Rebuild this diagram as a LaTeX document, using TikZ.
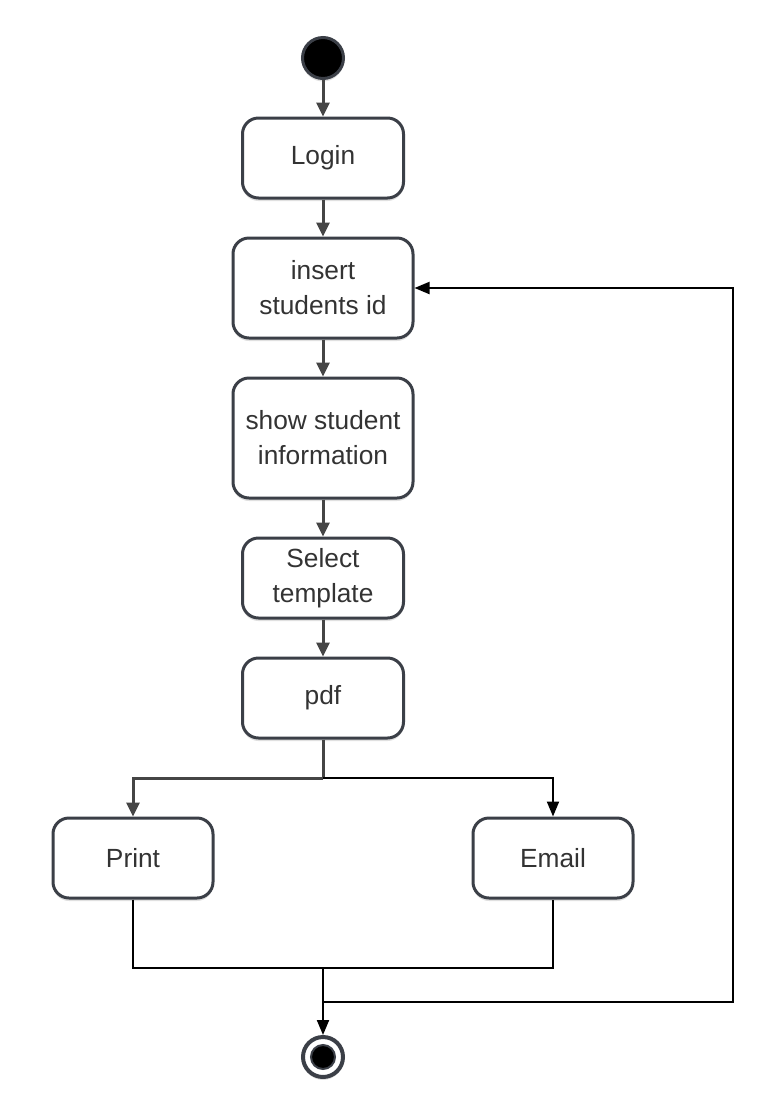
\documentclass[tikz,border=0pt]{standalone}
\usepackage{fontspec}
\setmainfont{Liberation Sans}
\usetikzlibrary{arrows.meta,shadows}
\definecolor{boxline}{HTML}{3B3F47}
\definecolor{arrgray}{HTML}{454545}
\definecolor{txt}{HTML}{333333}
\tikzset{
  act/.style={draw=boxline, line width=3pt, rounded corners=16pt, fill=white,
    inner sep=0pt, text=txt, align=center,
    font=\fontsize{26.3}{35}\selectfont,
    drop shadow={shadow xshift=0pt, shadow yshift=-3pt, opacity=0.12, fill=black}},
  garrow/.style={draw=arrgray, line width=3pt, -{Triangle[length=14pt,width=13pt]}},
  gline/.style={draw=arrgray, line width=3pt},
  barrow/.style={draw=black, line width=2pt, -{Triangle[length=15pt,width=12pt]}},
  bline/.style={draw=black, line width=2pt},
}
\begin{document}
\begin{tikzpicture}[x=1pt,y=-1pt]
\useasboundingbox[fill=white] (0,0) rectangle (764,1104);
% nodes
\node[circle, draw=boxline, line width=3pt, fill=black, minimum size=41pt, inner sep=0pt,
  drop shadow={shadow xshift=0pt, shadow yshift=-3pt, opacity=0.12, fill=black}] (start) at (323,58) {};
\node[act, minimum width=161pt, minimum height=80pt] (login) at (323,158) {Login};
\node[act, minimum width=180pt, minimum height=100pt] (insert) at (323,288) {insert\\students id};
\node[act, minimum width=180pt, minimum height=120pt] (show) at (323,438) {show student\\information};
\node[act, minimum width=161pt, minimum height=80pt] (select) at (323,578) {Select\\template};
\node[act, minimum width=161pt, minimum height=80pt] (pdf) at (323,698) {pdf};
\node[act, minimum width=160pt, minimum height=80pt] (print) at (133,858) {Print};
\node[act, minimum width=160pt, minimum height=80pt] (email) at (553,858) {Email};
\node[circle, draw=boxline, line width=4pt, fill=white, minimum size=40pt, inner sep=0pt,
  drop shadow={shadow xshift=0pt, shadow yshift=-3pt, opacity=0.12, fill=black}] (end) at (323,1057) {};
\node[circle, draw=boxline, line width=2pt, fill=black, minimum size=24pt, inner sep=0pt] (endin) at (end.center) {};
% coordinates
\coordinate (split) at (323,778);
\coordinate (merge) at (323,968);
\coordinate (loop) at (323,1002);
\coordinate (rt) at (733,1002);
% connectors
\draw[garrow] (start) -- (login);
\draw[garrow] (login) -- (insert);
\draw[garrow] (insert) -- (show);
\draw[garrow] (show) -- (select);
\draw[garrow] (select) -- (pdf);
\draw[gline] (pdf) -- (split);
\draw[barrow] (split) -| (email);
\draw[garrow] (split) -| (print);
\draw[bline] (print.south) |- (merge) -| (email.south);
\draw[barrow] (merge) -- (end);
\draw[barrow] (loop) -- (rt) |- (insert.east);
\end{tikzpicture}
\end{document}
